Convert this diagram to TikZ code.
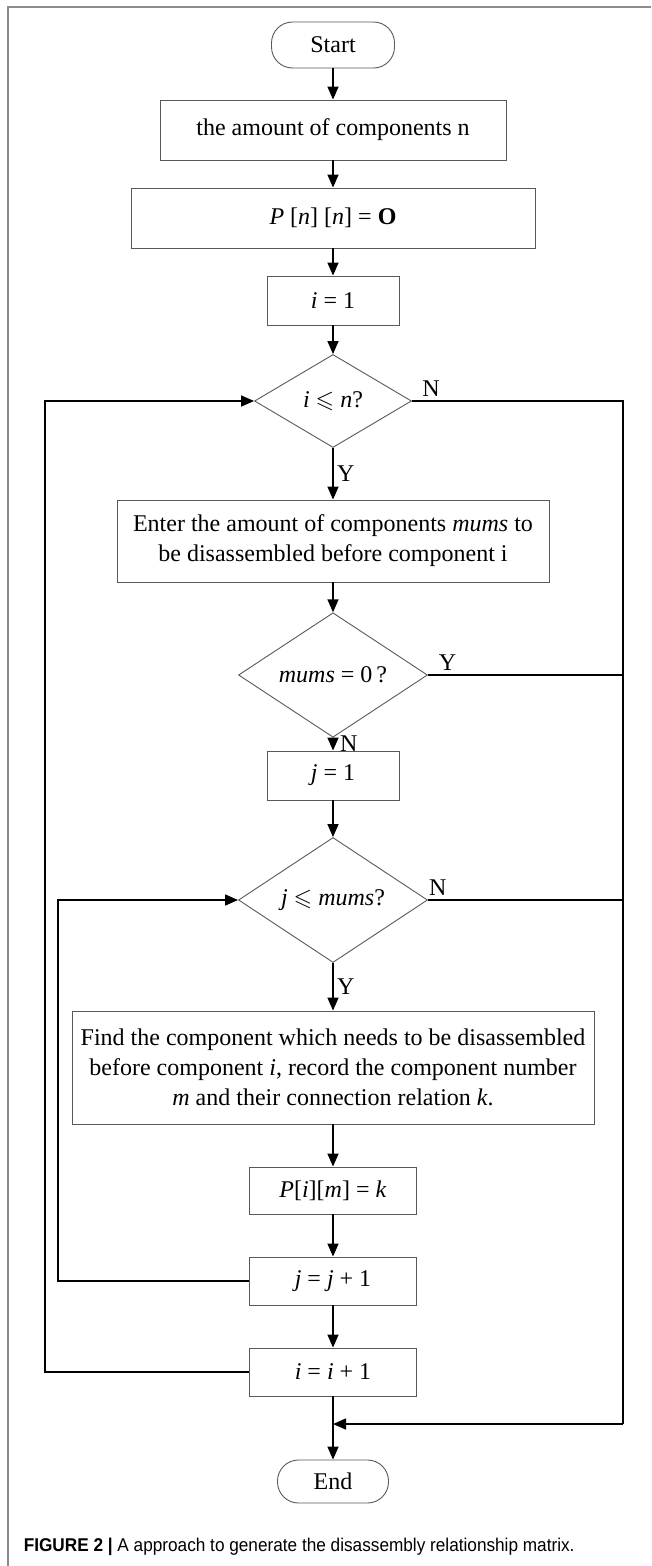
\documentclass[tikz,border=0pt]{standalone}
\usepackage{amsmath,amssymb}
\usepackage{graphicx}
\usepackage{fontspec}
\usepackage{tikz}
\usetikzlibrary{arrows.meta,shapes.geometric}
\setmainfont{Liberation Serif}
\newfontfamily\capfont{Liberation Sans}

\begin{document}
\begin{tikzpicture}[
        x=1pt, y=-1pt,
        font=\fontsize{24}{30}\selectfont,
        block/.style={rectangle, draw=black!65, line width=0.9pt, align=center, inner sep=2pt},
        term/.style={rectangle, rounded corners=21pt, draw=black!65, line width=0.9pt},
        decision/.style={diamond, draw=black!65, line width=0.9pt, inner sep=0pt},
        >={Triangle[length=13pt,width=11pt]},
        line width=1.5pt
    ]
        \useasboundingbox (0,0) rectangle (651,1566);
        % frame
        \draw[black!45, line width=1.2pt] (8,1566) -- (8,7) -- (651,7);

        % Main column
        \node[term, minimum width=123pt, minimum height=46pt] (start) at (333,45) {Start};
        \node[block, minimum width=346pt, minimum height=60pt] (amount) at (333,130) {the amount of components n};
        \node[block, minimum width=404pt, minimum height=60pt] (init) at (333,218) {\textit{P} [\textit{n}] [\textit{n}] = \textbf{O}};
        \node[block, minimum width=132pt, minimum height=49pt] (iset) at (333,300.5) {\textit{i} = 1};
        \node[decision, minimum width=157pt, minimum height=93pt] (ichk) at (333,401) {\textit{i} $\leqslant$ \textit{n}?};
        \node[block, minimum width=432pt, minimum height=82pt] (enter) at (333,541)
            {Enter the amount of components \textit{mums} to\\be disassembled before component i};
        \node[decision, minimum width=189pt, minimum height=97pt] (mchk) at (333,675) {\textit{mums} = 0\,?};
        \node[block, minimum width=132pt, minimum height=49pt] (jset) at (333,775.5) {\textit{j} = 1};
        \node[decision, minimum width=189pt, minimum height=113pt] (jchk) at (333,900) {\textit{j} $\leqslant$ \textit{mums}?};
        \node[block, minimum width=522pt, minimum height=113pt] (find) at (333,1067.5)
            {Find the component which needs to be disassembled\\before component \textit{i}, record the component number\\\textit{m} and their connection relation \textit{k}.};
        \node[block, minimum width=167pt, minimum height=47pt] (assign) at (333,1190.5) {\textit{P}[\textit{i}][\textit{m}] = \textit{k}};
        \node[block, minimum width=167pt, minimum height=48pt] (jinc) at (333,1281) {\textit{j} = \textit{j} + 1};
        \node[block, minimum width=167pt, minimum height=48pt] (iinc) at (333,1372) {\textit{i} = \textit{i} + 1};
        \node[term, minimum width=111pt, minimum height=43pt] (stop) at (333,1481.5) {End};

        % Loop corners
        \coordinate (rtop) at (623,401);
        \coordinate (rbot) at (623,1424);
        \coordinate (merge) at (333,1424);
        \coordinate (loopj) at (58,0);
        \coordinate (loopi) at (45,0);

        % Connections
        \draw[->] (start) -- (amount);
        \draw[->] (amount) -- (init);
        \draw[->] (init) -- (iset);
        \draw[->] (iset) -- (ichk);
        \draw[->] (ichk) -- node[right] {Y} (enter);
        \draw[->] (enter) -- (mchk);
        \draw[->] (mchk) -- node[right, xshift=3pt] {N} (jset);
        \draw[->] (jset) -- (jchk);
        \draw[->] (jchk) -- node[right] {Y} (find);
        \draw[->] (find) -- (assign);
        \draw[->] (assign) -- (jinc);
        \draw[->] (jinc) -- (iinc);
        \draw[->] (iinc) -- (stop);

        \draw (ichk.east) -- node[pos=0.09, above] {N} (rtop) -- (rbot);
        \draw (mchk.east) -- node[pos=0.1, above] {Y} (mchk.east -| rtop);
        \draw (jchk.east) -- node[pos=0.05, above] {N} (jchk.east -| rtop);
        \draw[->] (rbot) -- (merge);

        \draw[->] (jinc.west) -- (jinc.west -| loopj) |- (jchk.west);
        \draw[->] (iinc.west) -- (iinc.west -| loopi) |- (ichk.west);

        % Caption
        \node[anchor=west, inner sep=0pt, font=\fontsize{18.5}{22}\capfont] (caption) at (23,1547)
            {\scalebox{0.93}[1]{\textbf{FIGURE 2 |} A approach to generate the disassembly relationship matrix.}};
    \end{tikzpicture}
\end{document}
